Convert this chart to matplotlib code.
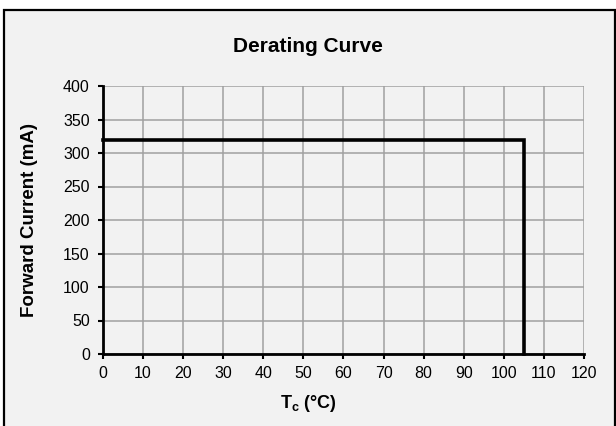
import matplotlib
matplotlib.use("Agg")
import matplotlib.pyplot as plt
from matplotlib.patches import Rectangle

plt.rcParams['font.family'] = ['Liberation Sans', 'DejaVu Sans']

# derating curve data
temp_c = [0, 105, 105]
current_ma = [320, 320, 0]
x_ticks = list(range(0, 121, 10))
y_ticks = list(range(0, 401, 50))

W, H = 616, 426
fig = plt.figure(figsize=(W / 100, H / 100), dpi=100)
fig.patch.set_facecolor('white')

# chart frame (bottom edge is cut off in the original)
frame = Rectangle((3.5 / W, -0.05), 611 / W, 1 - 9.5 / H + 0.05,
                  transform=fig.transFigure, facecolor='#f2f2f2',
                  edgecolor='black', linewidth=1.6, zorder=-5)
fig.patches.append(frame)

ax = fig.add_axes([103 / W, 1 - 354 / H, 481 / W, 268 / H])
ax.set_zorder(2)
ax.set_facecolor('#f2f2f2')
ax.plot(temp_c, current_ma, color='black', linewidth=2.6,
        solid_joinstyle='miter', zorder=3, clip_on=False)

ax.set_xlim(0, 120)
ax.set_ylim(0, 400)
ax.set_xticks(x_ticks)
ax.set_yticks(y_ticks)
ax.grid(True, color='#a0a0a0', linewidth=1.1)
ax.set_axisbelow(True)

for s in ['top', 'right']:
    ax.spines[s].set_visible(False)
for s in ['left', 'bottom']:
    ax.spines[s].set_linewidth(2)
    ax.spines[s].set_zorder(4)

ax.tick_params(direction='out', length=3.5, width=1.5, labelsize=11.5,
               colors='black')
ax.tick_params(axis='x', pad=5)
ax.tick_params(axis='y', pad=6)

# title and axis labels are centred on the chart area, not the plot
fig.text(0.5, 1 - 46 / H, 'Derating Curve', fontsize=15, fontweight='bold',
         ha='center', va='center')
fig.text(0.5, 1 - 403 / H, 'T$_\\mathregular{c}$ (°C)', fontsize=13,
         fontweight='bold', ha='center', va='center')
fig.text(30 / W, 1 - 220 / H, 'Forward Current (mA)', fontsize=13.5,
         fontweight='bold', ha='center', va='center', rotation=90)

fig.savefig('out.png', dpi=100, facecolor='white')
